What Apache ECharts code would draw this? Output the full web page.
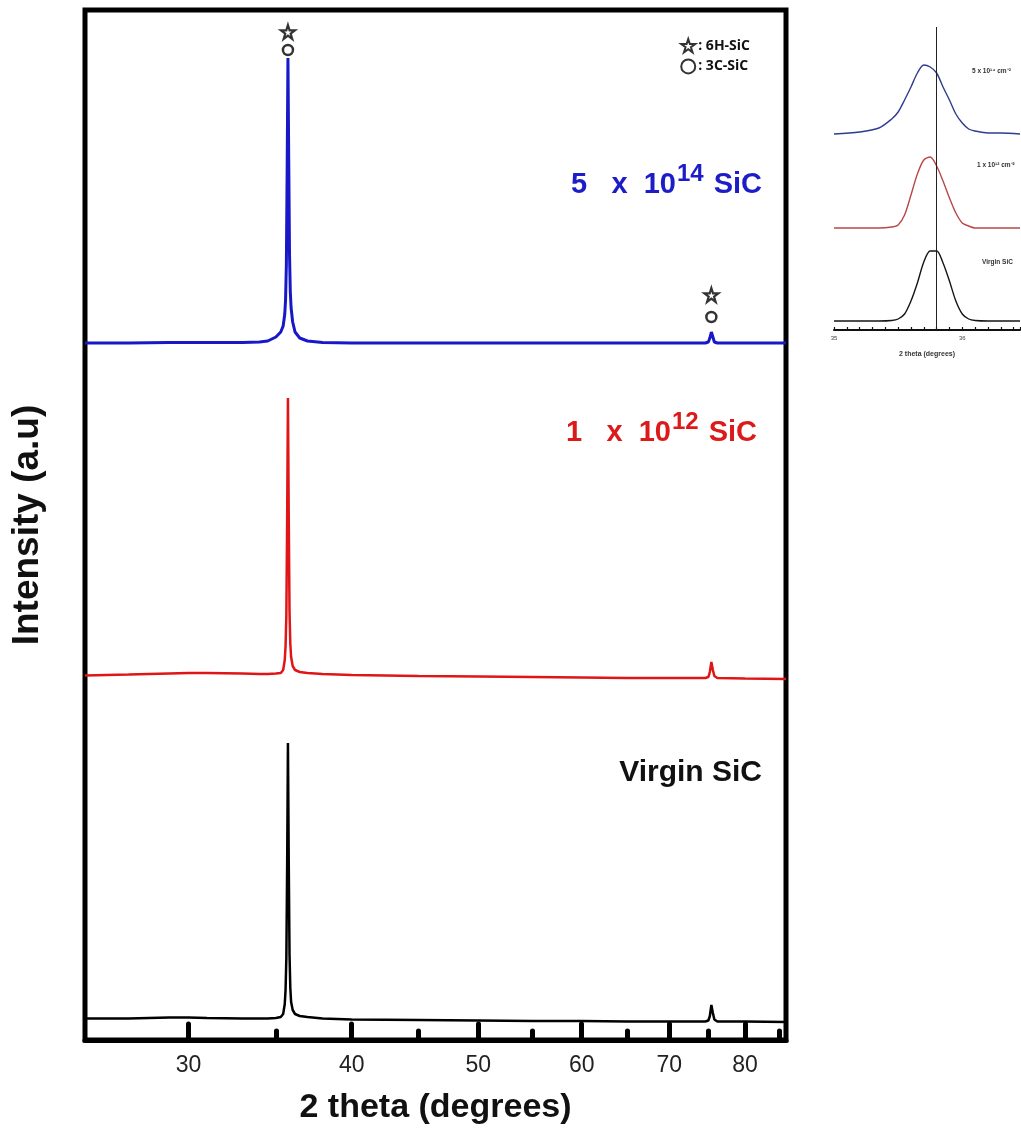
<!DOCTYPE html>
<html>
<head>
<meta charset="utf-8">
<script src="https://cdn.jsdelivr.net/npm/echarts@6.0.0/dist/echarts.min.js"></script>
<style>
html, body { margin: 0; padding: 0; background: #fff; }
#echarts { width: 1021px; height: 1135px; }
</style>
</head>
<body>
<div id="echarts"></div>
<script>
// 2 theta (degrees), shared by the three stacked traces
var theta = [25, 27, 29, 30, 31, 33, 34, 34.5, 35, 35.3, 35.45, 35.55, 35.6, 35.65, 35.7, 35.75, 35.8, 35.85, 35.9, 35.95,
    36.05, 36.2, 36.5, 37, 38, 40, 45, 50, 55, 60, 65, 70, 74.6, 75.0, 75.2, 75.4, 75.6, 75.8, 76.2, 80, 86];
// intensities (a.u., traces already offset as in the figure)
var virgin = [21.5, 21.5, 22.5, 22.5, 22, 21.5, 21.5, 21.5, 22, 23, 26, 36, 50, 82, 175, 297, 180, 85, 52, 38,
    30, 26, 24, 23, 21.5, 20.5, 20, 19.5, 19, 19, 18.5, 18.5, 18.5, 19.5, 24, 35, 27, 20.5, 18.5, 18.5, 18];
var dose12 = [364.5, 365.5, 366.5, 367, 367, 366.5, 366, 366, 366.5, 367, 370, 380, 394, 425, 520, 642, 525, 428, 396, 383,
    374, 370, 368, 367, 366, 365, 364, 363.5, 363, 362.5, 362, 362, 362, 363, 368, 378, 370, 364, 362, 361.5, 361];
var dose14 = [697, 697, 697.5, 697.5, 697.5, 697.5, 698, 699, 703, 708, 714, 726, 740, 775, 870, 982, 880, 785, 748, 732,
    718, 708, 702, 699, 697.5, 697, 697, 697, 697, 697, 697, 697, 697, 698, 702, 708, 703, 698, 697, 697, 697];

// phase markers above the peaks
var starPeaks = [[35.75, 1008], [75.4, 745]];
var circlePeaks = [[35.75, 990], [75.4, 723]];

var majorTicks = [30, 40, 50, 60, 70, 80];
var minorTicks = [35, 45, 55, 65, 75, 85];

// inset: zoom on the main peak
var thetaZoom = [35.0, 35.2, 35.35, 35.45, 35.5, 35.55, 35.6, 35.65, 35.7, 35.75, 35.8, 35.85, 35.9, 35.95,
    36.0, 36.05, 36.1, 36.2, 36.3, 36.45];
var zoom14 = [196, 198, 202, 211, 218, 230, 243, 257, 265, 263, 257, 243, 230, 216, 207, 201, 199, 197, 197, 196];
var zoom12 = [102, 102, 102, 103, 105, 115, 135, 156, 170, 173, 164, 149, 132, 117, 107, 104, 102, 102, 102, 102];
var zoomVirgin = [9, 9, 9, 9.5, 11, 16, 29, 47, 68, 79, 79, 67, 49, 29, 16, 11, 9.5, 9, 9, 9];
var refLine = 35.8;

function pairs(xs, ys) {
    return xs.map(function (x, i) { return [x, ys[i]]; });
}

var starPath = 'path://M50,2 L61,36 L97,36 L68,57 L79,92 L50,71 L21,92 L32,57 L3,36 L39,36 Z';
var font = 'Liberation Sans';

var myChart = echarts.init(document.getElementById('echarts'));

var labelRich = function (color) {
    return {
        a: {fontSize: 29, fontWeight: 'bold', color: color, lineHeight: 46, fontFamily: font},
        b: {fontSize: 24, fontWeight: 'bold', color: color, lineHeight: 22, verticalAlign: 'top', fontFamily: font,
            padding: [0, 2, 0, 1]}
    };
};

var option = {
    animation: false,
    backgroundColor: '#fff',
    title: [
        {text: '{a|5   x  10}{b|14}{a| SiC}', right: 259, top: 162, padding: 0, textStyle: {rich: labelRich('#1c1cc9')}},
        {text: '{a|1   x  10}{b|12}{a| SiC}', right: 264, top: 410, padding: 0, textStyle: {rich: labelRich('#dd1a1a')}},
        {text: '{a|Virgin SiC}', right: 259, top: 750, padding: 0,
            textStyle: {rich: {a: {fontSize: 30, fontWeight: 'bold', color: '#111', lineHeight: 46, fontFamily: font}}}},
        // inset labels
        {text: '5 x 10¹⁴ cm⁻²', left: 972, top: 68, padding: 0,
            textStyle: {fontSize: 6.5, fontWeight: 'bold', color: '#333', fontFamily: font}},
        {text: '1 x 10¹² cm⁻²', left: 977, top: 162, padding: 0,
            textStyle: {fontSize: 6.5, fontWeight: 'bold', color: '#333', fontFamily: font}},
        {text: 'Virgin SiC', left: 982, top: 259, padding: 0,
            textStyle: {fontSize: 6.5, fontWeight: 'bold', color: '#333', fontFamily: font}}
    ],
    legend: {
        data: ['6H-SiC', '3C-SiC'],
        orient: 'vertical',
        right: 266,
        top: 33,
        itemWidth: 14,
        itemHeight: 14,
        itemGap: 5,
        formatter: ': {name}',
        textStyle: {fontSize: 14, fontWeight: 'bold', color: '#111', fontFamily: 'Open Sans', padding: [0, 0, 0, -2]}
    },
    grid: [
        {left: 85, top: 10, width: 701, height: 1030, show: true, borderColor: '#000', borderWidth: 5,
            outerBoundsMode: 'none'},
        {left: 834, top: 27, width: 186, height: 303, outerBoundsMode: 'none'}
    ],
    xAxis: [
        {
            type: 'log', logBase: 10, gridIndex: 0, position: 'bottom', min: 25, max: 86,
            axisLine: {show: true, lineStyle: {color: '#000', width: 5}},
            axisTick: {show: true, inside: true, length: 16, customValues: majorTicks,
                lineStyle: {color: '#000', width: 5, cap: 'round'}},
            axisLabel: {customValues: majorTicks, margin: 14, fontSize: 23, color: '#222', fontFamily: font},
            splitLine: {show: false},
            minorTick: {show: false},
            name: '2 theta (degrees)', nameLocation: 'middle', nameGap: 51,
            nameTextStyle: {fontSize: 34, fontWeight: 'bold', color: '#111', fontFamily: font}
        },
        {
            type: 'log', logBase: 10, gridIndex: 0, position: 'bottom', min: 25, max: 86,
            axisLine: {show: false},
            axisTick: {show: true, inside: true, length: 9, customValues: minorTicks,
                lineStyle: {color: '#000', width: 5, cap: 'round'}},
            axisLabel: {show: false},
            splitLine: {show: false}
        },
        {
            type: 'value', gridIndex: 1, position: 'bottom', min: 35, max: 36.45, interval: 0.1,
            axisLine: {show: true, lineStyle: {color: '#111', width: 2}},
            axisTick: {show: true, inside: true, length: 3, lineStyle: {color: '#111', width: 1.2}},
            axisLabel: {
                margin: 5, fontSize: 6, color: '#444', fontFamily: font,
                formatter: function (v) {
                    return Math.abs(v - Math.round(v)) < 1e-6 ? String(Math.round(v)) : '';
                }
            },
            splitLine: {show: false},
            name: '2 theta (degrees)', nameLocation: 'middle', nameGap: 21,
            nameTextStyle: {fontSize: 7, fontWeight: 'bold', color: '#333', fontFamily: font}
        }
    ],
    yAxis: [
        {
            type: 'value', gridIndex: 0, min: 0, max: 1030,
            axisLine: {show: false}, axisTick: {show: false}, axisLabel: {show: false}, splitLine: {show: false},
            name: 'Intensity (a.u)', nameLocation: 'middle', nameGap: 39,
            nameTextStyle: {fontSize: 37, fontWeight: 'bold', color: '#111', fontFamily: font}
        },
        {
            type: 'value', gridIndex: 1, min: 0, max: 303, show: false
        }
    ],
    series: [
        {
            name: 'Virgin SiC', type: 'line', xAxisIndex: 0, yAxisIndex: 0, showSymbol: false,
            data: pairs(theta, virgin), lineStyle: {color: '#000', width: 2.5}
        },
        {
            name: '1 x 10^12 SiC', type: 'line', xAxisIndex: 0, yAxisIndex: 0, showSymbol: false,
            data: pairs(theta, dose12), lineStyle: {color: '#e01515', width: 2.5}
        },
        {
            name: '5 x 10^14 SiC', type: 'line', xAxisIndex: 0, yAxisIndex: 0, showSymbol: false,
            data: pairs(theta, dose14), lineStyle: {color: '#1818c8', width: 3}
        },
        {
            name: '6H-SiC', type: 'scatter', xAxisIndex: 0, yAxisIndex: 0,
            symbol: starPath, symbolSize: 14, data: starPeaks,
            itemStyle: {color: '#fff', borderColor: '#000', borderWidth: 2.2}
        },
        {
            name: '3C-SiC', type: 'scatter', xAxisIndex: 0, yAxisIndex: 0,
            symbol: 'circle', symbolSize: 10, data: circlePeaks,
            itemStyle: {color: '#fff', borderColor: '#000', borderWidth: 2.5}
        },
        // inset traces
        {
            type: 'line', xAxisIndex: 2, yAxisIndex: 1, showSymbol: false, smooth: 0.3,
            data: pairs(thetaZoom, zoomVirgin), lineStyle: {color: '#151515', width: 1.4},
            markLine: {
                silent: true, symbol: 'none', label: {show: false},
                lineStyle: {color: '#222', width: 1, type: 'solid'},
                data: [{xAxis: refLine}]
            }
        },
        {
            type: 'line', xAxisIndex: 2, yAxisIndex: 1, showSymbol: false, smooth: 0.3,
            data: pairs(thetaZoom, zoom12), lineStyle: {color: '#b84848', width: 1.4}
        },
        {
            type: 'line', xAxisIndex: 2, yAxisIndex: 1, showSymbol: false, smooth: 0.3,
            data: pairs(thetaZoom, zoom14), lineStyle: {color: '#2f3c8e', width: 1.4}
        }
    ]
};

myChart.setOption(option);
</script>
</body>
</html>
